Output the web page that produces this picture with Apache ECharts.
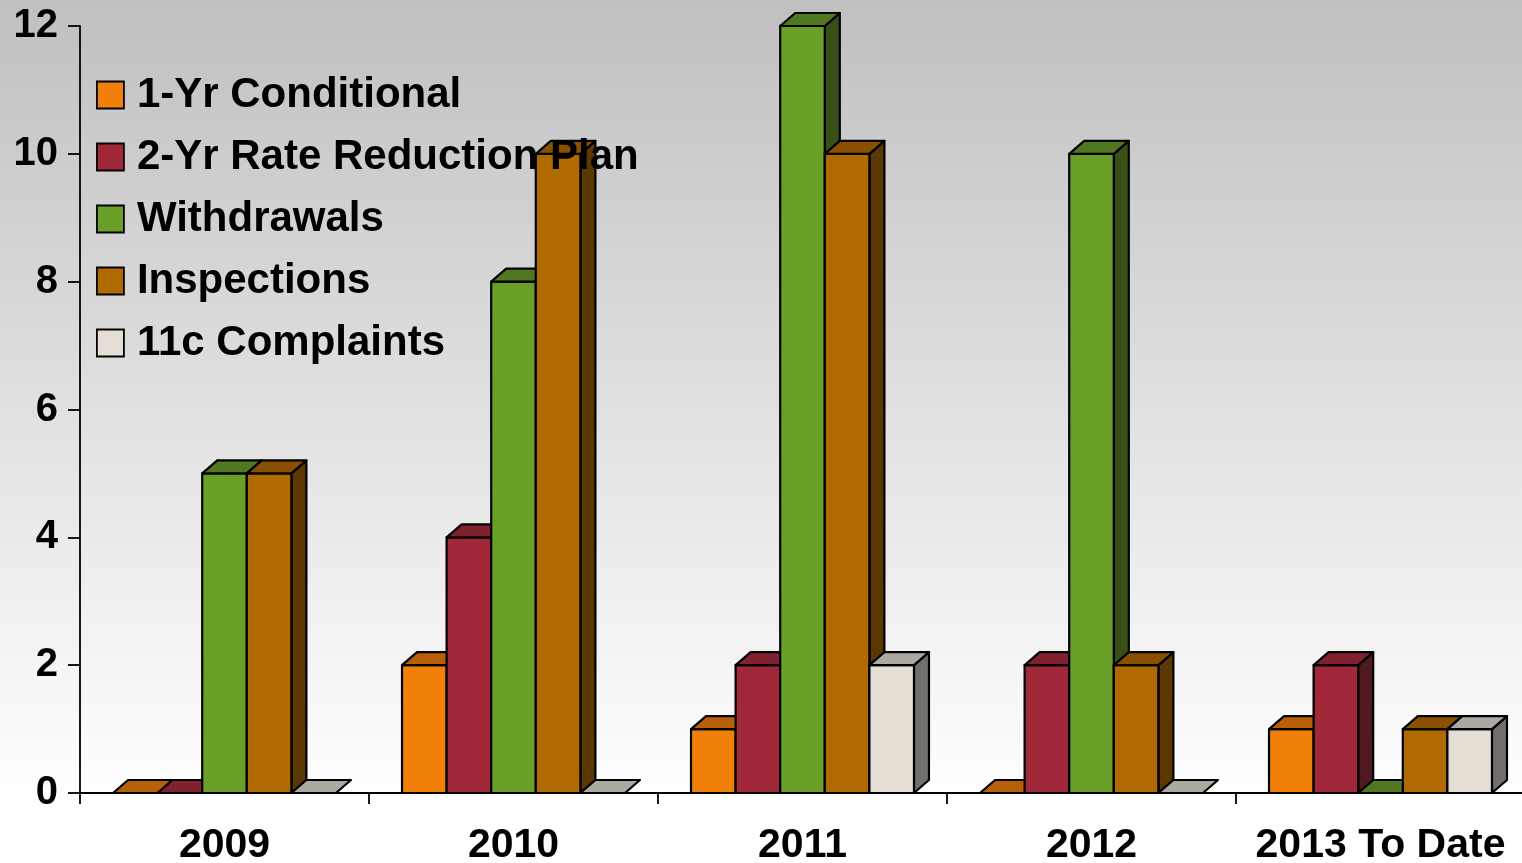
<!DOCTYPE html>
<html>
<head>
<meta charset="utf-8">
<script src="https://cdn.jsdelivr.net/npm/echarts@6/dist/echarts.min.js"></script>
<style>
html,body{margin:0;padding:0;background:#fff;}
#chart{width:1522px;height:863px;}
</style>
</head>
<body>
<div id="chart"></div>
<script>
const categories = ['2009', '2010', '2011', '2012', '2013 To Date'];
const seriesNames = ['1-Yr Conditional', '2-Yr Rate Reduction Plan', 'Withdrawals', 'Inspections', '11c Complaints'];
const oneYrConditional = [0, 2, 1, 0, 1];
const twoYrRateReduction = [0, 4, 2, 2, 2];
const withdrawals = [5, 8, 12, 10, 0];
const inspections = [5, 10, 10, 2, 1];
const complaints11c = [0, 0, 2, 0, 1];
const yTicks = [0, 2, 4, 6, 8, 10, 12];

const seriesValues = [oneYrConditional, twoYrRateReduction, withdrawals, inspections, complaints11c];
const frontColors = ['#F08008', '#A02838', '#6AA028', '#B06A00', '#E4DED4'];
const topColors   = ['#B86008', '#802030', '#507820', '#8A5000', '#ACAAA0'];
const sideColors  = ['#7A4004', '#501820', '#385018', '#5A3800', '#72706A'];

const FONT = '"Liberation Sans", Arial, sans-serif';
const DX = 15, DY = 13;

function makeRender(si) {
  return function (params, api) {
    const cat = api.value(0), val = api.value(1);
    const base = api.coord([cat, 0]);
    const topPt = api.coord([cat, val]);
    const bandW = api.size([1, 0])[0];
    const bw = bandW * 0.1543;
    const x0 = base[0] + (si - 2.5) * bw;
    const x1 = x0 + bw;
    const yb = base[1], yt = topPt[1];
    const lineStyle = { stroke: '#000', lineWidth: 2.2, lineJoin: 'round' };
    const children = [];
    if (yb - yt > 0.5) {
      children.push({
        type: 'polygon',
        shape: { points: [[x1, yt], [x1 + DX, yt - DY], [x1 + DX, yb - DY], [x1, yb]] },
        style: Object.assign({ fill: sideColors[si] }, lineStyle)
      });
      children.push({
        type: 'rect',
        shape: { x: x0, y: yt, width: bw, height: yb - yt },
        style: Object.assign({ fill: frontColors[si] }, lineStyle)
      });
    }
    children.push({
      type: 'polygon',
      shape: { points: [[x0, yt], [x0 + DX, yt - DY], [x1 + DX, yt - DY], [x1, yt]] },
      style: Object.assign({ fill: topColors[si] }, lineStyle)
    });
    return { type: 'group', children: children };
  };
}

const series = seriesNames.map((name, si) => ({
  name: name,
  type: 'custom',
  renderItem: makeRender(si),
  itemStyle: { color: frontColors[si] },
  encode: { x: 0, y: 1 },
  data: seriesValues[si].map((v, i) => [i, v]),
  z: 2 + si,
  clip: false
}));

const chart = echarts.init(document.getElementById('chart'));
chart.setOption({
  animation: false,
  backgroundColor: {
    type: 'linear', x: 0, y: 0, x2: 0, y2: 1,
    colorStops: [
      { offset: 0, color: '#C0C0C0' },
      { offset: 0.92, color: '#FFFFFF' },
      { offset: 1, color: '#FFFFFF' }
    ]
  },
  grid: { left: 80, top: 26, width: 1445, bottom: 70, containLabel: false, outerBoundsMode: 'none' },
  legend: {
    z: 20,
    orient: 'vertical',
    left: 91,
    top: 69,
    itemWidth: 27,
    itemHeight: 27,
    itemGap: 20,
    icon: 'rect',
    data: seriesNames.map((n, i) => ({
      name: n,
      itemStyle: { color: frontColors[i], borderColor: '#000', borderWidth: 1.8 }
    })),
    textStyle: {
      fontFamily: FONT, fontWeight: 'bold', fontSize: 42, color: '#000',
      lineHeight: 41, padding: [0, 0, 0, 8]
    }
  },
  xAxis: {
    type: 'category',
    data: categories,
    axisLine: { lineStyle: { color: '#000', width: 1.8 } },
    axisTick: { show: true, interval: 0, length: 11, lineStyle: { color: '#000', width: 1.8 } },
    axisLabel: {
      interval: 0,
      fontFamily: FONT, fontWeight: 'bold', fontSize: 41, color: '#000', margin: 32
    },
    splitLine: { show: false }
  },
  yAxis: {
    type: 'value',
    min: 0, max: 12, interval: 2,
    axisLine: { show: true, lineStyle: { color: '#000', width: 1.8 } },
    axisTick: { show: true, length: 12, lineStyle: { color: '#000', width: 1.8 } },
    axisLabel: {
      fontFamily: FONT, fontWeight: 'bold', fontSize: 40, color: '#000', margin: 22,
      formatter: v => (yTicks.indexOf(v) >= 0 ? String(v) : '')
    },
    splitLine: { show: false }
  },
  series: series
});
</script>
</body>
</html>
